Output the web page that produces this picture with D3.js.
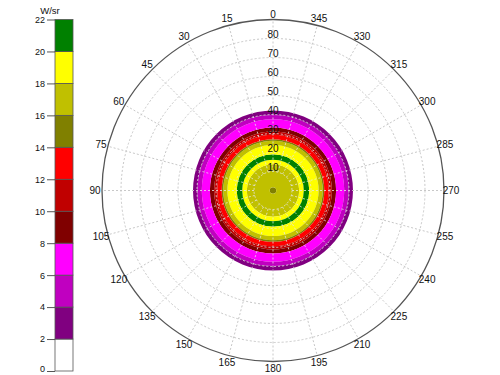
<!DOCTYPE html>
<html><head><meta charset="utf-8">
<script src="https://cdn.jsdelivr.net/npm/d3@7"></script>
<style>body{margin:0;background:#fff}svg{display:block;font-family:"Liberation Sans",Arial,sans-serif}</style>
</head><body>
<script>
// ring edges (polar angle, degrees) and radiant intensity (W/sr) for each ring between edges
const ringEdges = [0, 1.7, 13.8, 16.2, 19.1, 24, 26.2, 27, 29.3, 31, 33.2, 37.5, 39.8, 42.1];
const ringValues = [15, 17, 19, 21, 19, 17, 15, 13, 11, 9, 7, 5, 3];
// colour bar
const levelBreaks = [0, 2, 4, 6, 8, 10, 12, 14, 16, 18, 20, 22];
const levelColors = ["#ffffff", "#800080", "#c000c0", "#ff00ff", "#800000", "#c00000", "#ff0000", "#808000", "#c0c000", "#ffff00", "#008000"];
const radialTicks = [10, 20, 30, 40, 50, 60, 70, 80];
const angleTicks = d3.range(0, 360, 15);
const unitLabel = "W/sr";

const W = 500, H = 375;
const svg = d3.select("body").append("svg").attr("width", W).attr("height", H);

const cx = 273, cy = 190.5, R = 171;
const r = d3.scaleLinear().domain([0, 90]).range([0, R]);
const color = d3.scaleThreshold().domain(levelBreaks.slice(1, -1)).range(levelColors);

const g = svg.append("g").attr("transform", `translate(${cx},${cy})`);
const arc = d3.arc();

// grid circles
g.selectAll("circle.grid").data(radialTicks).join("circle")
  .attr("r", d => r(d)).attr("fill", "none")
  .attr("stroke", "#c8c8c8").attr("stroke-width", 1).attr("stroke-dasharray", "2,2");

// spokes (angle measured counter-clockwise from top)
const ang = a => -a * Math.PI / 180;
g.selectAll("line.spoke").data(angleTicks).join("line")
  .attr("x1", a => r(10) * Math.sin(ang(a)))
  .attr("y1", a => -r(10) * Math.cos(ang(a)))
  .attr("x2", a => r(90) * Math.sin(ang(a)))
  .attr("y2", a => -r(90) * Math.cos(ang(a)))
  .attr("stroke", "#c8c8c8").attr("stroke-width", 1).attr("stroke-dasharray", "2,2");

// rings
g.selectAll("path.ring").data(ringValues).join("path")
  .attr("class", "ring")
  .attr("d", (v, i) => arc({innerRadius: r(ringEdges[i]), outerRadius: r(ringEdges[i + 1]), startAngle: 0, endAngle: 2 * Math.PI}))
  .attr("fill", v => color(v));

// grid over the rings (light dotted)
g.selectAll("circle.grid2").data(radialTicks.filter(d => d < 45)).join("circle")
  .attr("r", d => r(d)).attr("fill", "none")
  .attr("stroke", "#e6e6e6").attr("stroke-opacity", 0.8).attr("stroke-width", 1).attr("stroke-dasharray", "2,2");
g.selectAll("line.spoke2").data(angleTicks).join("line")
  .attr("x1", a => r(10) * Math.sin(ang(a)))
  .attr("y1", a => -r(10) * Math.cos(ang(a)))
  .attr("x2", a => r(ringEdges[ringEdges.length - 1]) * Math.sin(ang(a)))
  .attr("y2", a => -r(ringEdges[ringEdges.length - 1]) * Math.cos(ang(a)))
  .attr("stroke", "#e6e6e6").attr("stroke-opacity", 0.8).attr("stroke-width", 1).attr("stroke-dasharray", "2,2");

// outer circle
g.append("circle").attr("r", r(90)).attr("fill", "none").attr("stroke", "#555").attr("stroke-width", 1.3);

// angle labels
g.selectAll("text.ang").data(angleTicks).join("text")
  .attr("x", a => (r(90) + 7) * Math.sin(ang(a)))
  .attr("y", a => -(r(90) + 7) * Math.cos(ang(a)) + (a === 0 ? 1.5 : 0))
  .attr("text-anchor", "middle").attr("dominant-baseline", "central")
  .attr("font-size", 10).attr("fill", "#111").text(a => a);

// radial labels
g.selectAll("text.rad").data(radialTicks).join("text")
  .attr("x", 0).attr("y", d => -r(d) - 4)
  .attr("text-anchor", "middle").attr("dominant-baseline", "central")
  .attr("font-size", 10).attr("fill", "#111").text(d => d);

// colour bar
const cbX = 55, cbW = 18;
const cy2 = d3.scaleLinear().domain([0, 22]).range([371, 19.5]);
const cb = svg.append("g");
cb.selectAll("rect").data(levelColors).join("rect")
  .attr("x", cbX).attr("width", cbW)
  .attr("y", (c, i) => cy2(levelBreaks[i + 1]))
  .attr("height", (c, i) => cy2(levelBreaks[i]) - cy2(levelBreaks[i + 1]))
  .attr("fill", c => c).attr("stroke", "#555").attr("stroke-width", 0.8);
const axis = d3.axisLeft(cy2).tickValues(levelBreaks).tickSize(8).tickPadding(2).tickFormat(d3.format("d"));
const ax = cb.append("g").attr("transform", `translate(${cbX},0)`).call(axis);
ax.select(".domain").remove();
ax.selectAll("line").attr("stroke", "#555");
ax.selectAll("text").attr("font-size", 9).attr("fill", "#111").attr("font-family", "Liberation Sans, Arial, sans-serif")
  .attr("dy", d => d === 0 ? "0.1em" : "0.32em");
svg.append("text").attr("x", 50).attr("y", 10).attr("text-anchor", "middle")
  .attr("dominant-baseline", "central").attr("font-size", 9.5).attr("fill", "#111").text(unitLabel);
</script>
</body></html>
